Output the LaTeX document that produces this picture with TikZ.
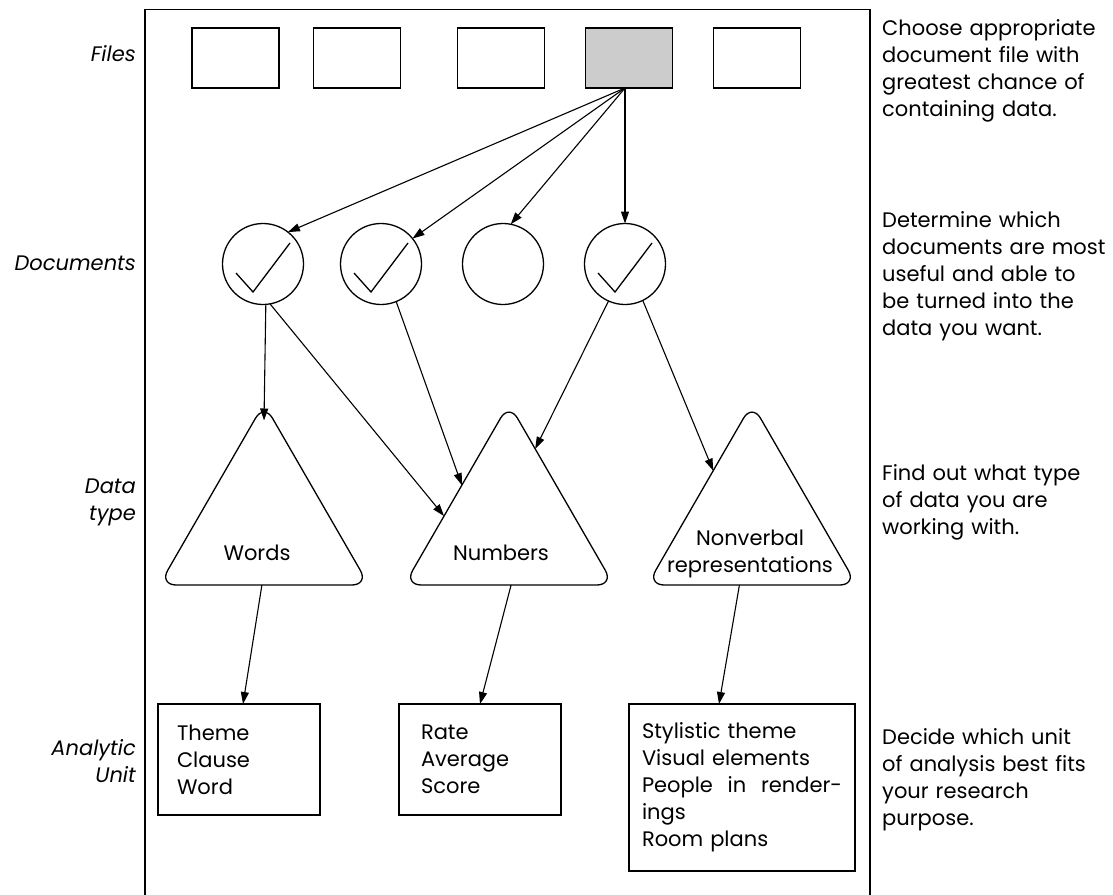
\documentclass[tikz,border=0pt]{standalone}
\usepackage{fontspec}
\setmainfont{Poppins}
\usetikzlibrary{shapes.geometric,arrows.meta,calc}

\newcommand{\diagfont}[0]{\fontsize{21}{27}\selectfont}
\newcommand{\fileW}[0]{87}
\newcommand{\fileH}[0]{60}
\newcommand{\docCheck}[1]{\draw[checkline] (#1.center) ++(-27,9) -- ++(17,19) -- ++(37,-49);}

\tikzset{
  every node/.style={font=\diagfont},
  filebox/.style={shape=rectangle,draw=black,line width=1.5pt,minimum width=\fileW pt,minimum height=\fileH pt,inner sep=0pt,outer sep=0pt},
  docnode/.style={shape=circle,draw=black,line width=1.3pt,minimum size=81pt,inner sep=0pt,outer sep=0pt},
  checkline/.style={line width=1.3pt},
  typenode/.style={regular polygon,regular polygon sides=3,draw=black,line width=1.3pt,minimum size=242pt,inner sep=0pt,outer sep=0pt,rounded corners=17pt,anchor=side 2},
  typelabel/.style={align=center,inner sep=0pt},
  unitbox/.style={shape=rectangle,draw=black,line width=1.5pt,minimum width=162pt,minimum height=111pt,align=left,inner ysep=0pt,outer sep=0pt},
  rowlabel/.style={anchor=east,align=right,inner sep=0pt,font=\diagfont\itshape},
  note/.style={anchor=base west,text width=240pt,align=left,inner sep=0pt},
  link/.style={-{Triangle[length=12pt,width=8pt]},line width=1.1pt},
}

\begin{document}
\begin{tikzpicture}[x=1pt,y=-1pt]
        \useasboundingbox (0,0) rectangle (1113,894);
        \draw[line width=1.3pt] (145,900) -- (145,9.5) -- (870,9.5) -- (870,900);

        \node[rowlabel] (lfiles) at (136,53.5)  {Files};
        \node[rowlabel] (ldocs)  at (136,263)   {Documents};
        \node[rowlabel] (ltype)  at (136,502)   {Data\\type};
        \node[rowlabel] (lunit)  at (136,761)   {Analytic\\Unit};

        \node[filebox] (f1) at (235.5,58) {};
        \node[filebox] (f2) at (357,58)   {};
        \node[filebox] (f3) at (501,58)   {};
        \node[filebox,fill=black!20] (f4) at (629,58) {};
        \node[filebox] (f5) at (757,58)   {};

        \node[docnode] (c1) at (263,264) {};
        \node[docnode] (c2) at (381,264) {};
        \node[docnode] (c3) at (503,264) {};
        \node[docnode] (c4) at (625,264) {};
        \docCheck{c1}
        \docCheck{c2}
        \docCheck{c4}

        \node[typenode] (tw) at (264,585) {};
        \node[typenode] (tn) at (509,585) {};
        \node[typenode] (tv) at (752,585) {};
        \node[typelabel] (twl) at (257,553) {Words};
        \node[typelabel] (tnl) at (501,553) {Numbers};
        \node[typelabel] (tvl) at (750,553.5) {Nonverbal\\representations};

        \node[unitbox,inner xsep=19pt,text width=124pt] (b1) at (239,759.5) {Theme\\Clause\\Word};
        \node[unitbox,inner xsep=22pt,text width=118pt] (b2) at (480,759.5) {Rate\\Average\\Score};
        \node[unitbox,inner xsep=13pt,text width=200pt,minimum width=226pt,minimum height=167pt] (b3) at (742,787.5)
            {Stylistic theme\\Visual elements\\People\hfill in\hfill render-\\ings\\Room plans};

        \node[note] (n1) at (882,35)  {Choose appropriate\\document file with\\greatest chance of\\containing data.};
        \node[note] (n2) at (882,227) {Determine which\\documents are most\\useful and able to\\be turned into the\\data you want.};
        \node[note] (n3) at (882,480) {Find out what type\\of data you are\\working with.};
        \node[note] (n4) at (882,744) {Decide which unit\\of analysis best fits\\your research\\purpose.};

        %edges from the chosen file
        \path[link] ([xshift=-4pt]f4.south) edge (c1.52);
        \path[link] ([xshift=-4pt]f4.south) edge (c2.39);
        \path[link] ([xshift=-4pt]f4.south) edge (c3.79);
        \path[link] ([xshift=-4pt]f4.south) edge (c4.north);

        %edges from documents to data types
        \path[link] (c1.-86) edge ([yshift=-17pt]tw.corner 1);
        \path[link] (c1.-80) edge ($(tn.corner 1)!0.62!(tn.corner 2)$);
        \path[link] (c2.-68) edge ($(tn.corner 1)!0.45!(tn.corner 2)$);
        \path[link] (c4.-114) edge ($(tn.corner 1)!0.25!(tn.corner 3)$);
        \path[link] (c4.-64) edge ($(tv.corner 1)!0.37!(tv.corner 2)$);

        %edges to the analytic units
        \path[link] ($(tw.corner 2)!0.49!(tw.corner 3)$) edge ([xshift=4pt]b1.north);
        \path[link] ($(tn.corner 2)!0.51!(tn.corner 3)$) edge (b2.north);
        \path[link] ($(tv.corner 2)!0.44!(tv.corner 3)$) edge ([xshift=-23pt]b3.north);
\end{tikzpicture}
\end{document}
